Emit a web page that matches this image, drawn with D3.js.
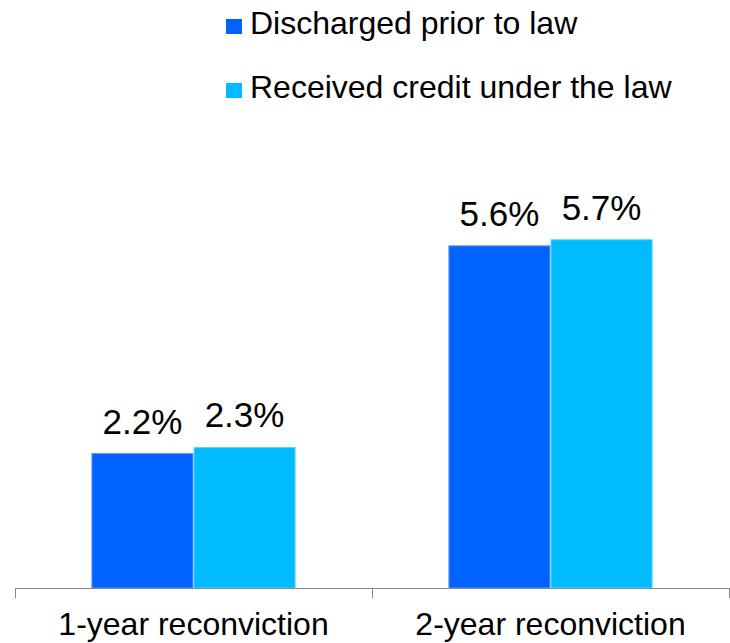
<!DOCTYPE html>
<html>
<head>
<meta charset="utf-8">
<script src="https://cdn.jsdelivr.net/npm/d3@7"></script>
<style>
  body { margin: 0; background: #fff; }
  text { font-family: "Liberation Sans", Arial, sans-serif; fill: #000; }
</style>
</head>
<body>
<div id="wrapper"></div>
<script>
// chart data
const categories = ["1-year reconviction", "2-year reconviction"]
const seriesNames = ["Discharged prior to law", "Received credit under the law"]
const dischargedValues = [2.2, 5.6]
const creditValues = [2.3, 5.7]
const valueLabels = [["2.2%", "2.3%"], ["5.6%", "5.7%"]]
const seriesColors = ["#0062ff", "#00bbff"]
const seriesStrokes = ["#5f97ff", "#5fd3ff"]

function drawChart() {
    //! page dimensions
    let dimensions = {
        width: 730,
        height: 643,
        margin: { top: 0, right: 1, bottom: 55, left: 15 },
    }
    const baseline = dimensions.height - dimensions.margin.bottom

    const svg = d3.select('#wrapper')
        .append('svg')
        .attr('width', dimensions.width)
        .attr('height', dimensions.height)

    const rows = categories.map((c, i) => ({
        category: c,
        values: [dischargedValues[i], creditValues[i]],
        labels: valueLabels[i]
    }))

    //* scales
    const xScale = d3.scaleBand()
        .domain(categories)
        .range([dimensions.margin.left, dimensions.width - dimensions.margin.right])
        .padding(0)

    const groupWidth = xScale.bandwidth() * 0.572
    const innerScale = d3.scaleBand()
        .domain(d3.range(seriesNames.length))
        .range([0, groupWidth])

    const yScale = d3.scaleLinear()
        .domain([0, 6])
        .range([baseline, baseline - 6 * 61.1])

    //! bars
    const groups = svg.selectAll('.group')
        .data(rows)
        .join('g')
        .attr('class', 'group')
        .attr('transform', d => `translate(${xScale(d.category) + (xScale.bandwidth() - groupWidth) / 2},0)`)

    groups.selectAll('rect')
        .data(d => d.values.map((v, i) => ({ v, i })))
        .join('rect')
        .attr('x', d => innerScale(d.i) + 0.5)
        .attr('width', innerScale.bandwidth() - 1)
        .attr('y', d => yScale(d.v))
        .attr('height', d => baseline - yScale(d.v))
        .attr('fill', d => seriesColors[d.i])
        .attr('stroke', d => seriesStrokes[d.i])
        .attr('stroke-width', 1)

    //* value labels
    groups.selectAll('.val')
        .data(d => d.values.map((v, i) => ({ v, i, label: d.labels[i] })))
        .join('text')
        .attr('class', 'val')
        .attr('x', d => innerScale(d.i) + innerScale.bandwidth() / 2)
        .attr('y', d => yScale(d.v) - 20)
        .attr('text-anchor', 'middle')
        .style('font-size', '35px')
        .text(d => d.label)

    //! x axis
    const axis = svg.append('g')
        .attr('transform', `translate(0,${baseline})`)
        .call(d3.axisBottom(xScale).tickSize(0).tickPadding(47))
    axis.select('.domain').remove()
    axis.selectAll('text')
        .style('font-size', '32px')
        .attr('dy', 0)
        .attr('fill', '#000')

    const [x0, x1] = xScale.range()
    svg.append('line')
        .attr('x1', x0).attr('x2', x1)
        .attr('y1', baseline + 0.5).attr('y2', baseline + 0.5)
        .attr('stroke', '#888')
        .attr('stroke-width', 1)

    const boundaries = categories.map(c => xScale(c)).concat([x1])
    svg.selectAll('.tick-mark')
        .data(boundaries)
        .join('line')
        .attr('class', 'tick-mark')
        .attr('x1', d => Math.round(d) + 0.5).attr('x2', d => Math.round(d) + 0.5)
        .attr('y1', baseline).attr('y2', baseline + 10)
        .attr('stroke', '#888')

    //! legend
    const legend = svg.selectAll('.legend')
        .data(seriesNames)
        .join('g')
        .attr('class', 'legend')
        .attr('transform', (d, i) => `translate(226,${19 + i * 64})`)
    legend.append('rect')
        .attr('width', 16)
        .attr('height', 15)
        .attr('fill', (d, i) => seriesColors[i])
    legend.append('text')
        .attr('x', 24)
        .attr('y', 15)
        .style('font-size', '32px')
        .text(d => d)
}

drawChart()
</script>
</body>
</html>
